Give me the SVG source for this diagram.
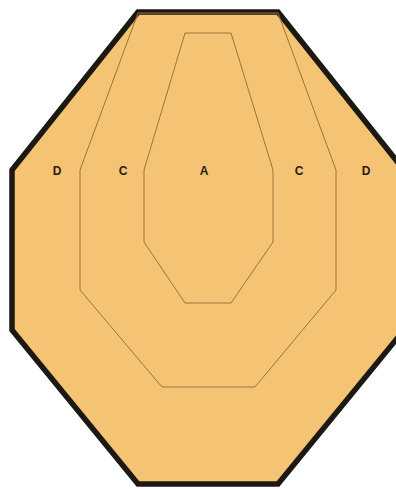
<svg xmlns="http://www.w3.org/2000/svg" width="396" height="489" viewBox="0 0 396 489">
<style>
.zone{fill:none;stroke:#9a7440;stroke-width:1}
.lbl{font-family:"Liberation Sans",Arial,sans-serif;font-weight:bold;font-size:12px;fill:#2a1c12;text-anchor:middle}
</style>
<rect width="396" height="489" fill="#ffffff"/>
<g id="zone-d">
<polygon points="138,12 278,12 404,170 404,330 278,484 138,484 12,330 12,170" fill="#F5C374" stroke="#1c1812" stroke-width="5.5" stroke-linejoin="miter"/>
</g>
<g id="zone-c">
<polygon class="zone" points="138,13 278,13 336,170 336,290 255,387 162,387 80,290 80,170"/>
</g>
<g id="zone-a">
<polygon class="zone" points="185,33 231,33 273,170 273,242 231,303 185,303 144,242 144,170"/>
</g>
<g id="labels">
<text class="lbl" x="57" y="175">D</text>
<text class="lbl" x="123" y="175">C</text>
<text class="lbl" x="204" y="175">A</text>
<text class="lbl" x="299" y="175">C</text>
<text class="lbl" x="366" y="175">D</text>
</g>
</svg>
